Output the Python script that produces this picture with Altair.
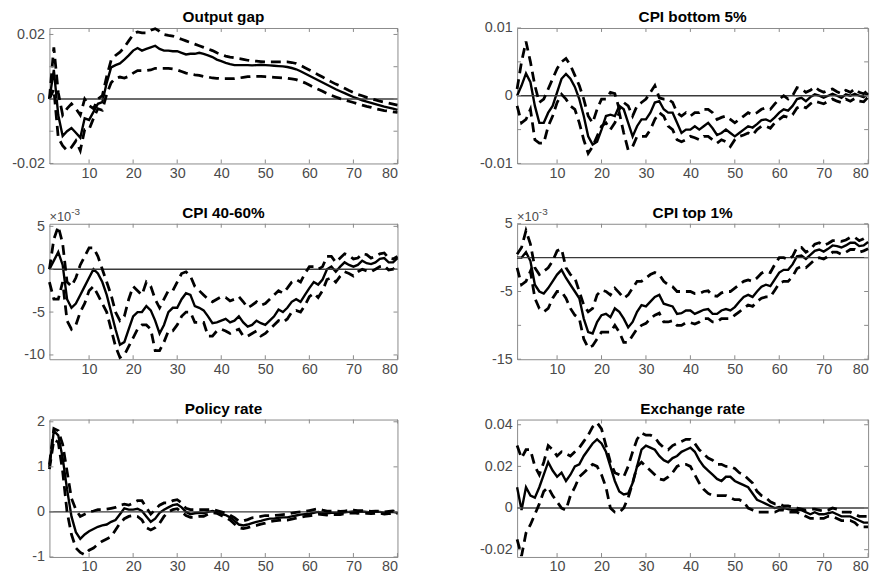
import altair as alt
import pandas as pd

T = list(range(1, 81))
XTICKS = [10, 20, 30, 40, 50, 60, 70, 80]

TITLES = ["Output gap", "CPI bottom 5%", "CPI 40-60%", "CPI top 1%", "Policy rate", "Exchange rate"]

# ---------------- Output gap ----------------
og_mean = [0, 0.009, -0.005, -0.0115, -0.010, -0.009, -0.0105, -0.012, -0.006, -0.0065,
           -0.004, -0.0015, -0.001, 0.005, 0.0098, 0.0105, 0.011, 0.0122, 0.0135, 0.015,
           0.0158, 0.015, 0.0155, 0.016, 0.0165, 0.0155, 0.015, 0.015, 0.0148, 0.0148,
           0.0143, 0.0138, 0.014, 0.014, 0.0143, 0.014, 0.0135, 0.013, 0.0122, 0.0117,
           0.0112, 0.0108, 0.0105, 0.0105, 0.0105, 0.0105, 0.0104, 0.0105, 0.0106, 0.0105,
           0.0104, 0.0103, 0.0102, 0.0101, 0.0099, 0.0096, 0.0092, 0.0086, 0.0079, 0.0072,
           0.0065, 0.0058, 0.0051, 0.0044, 0.0037, 0.0030, 0.0024, 0.0018, 0.0012, 0.0006,
           0.0001, -0.0004, -0.0008, -0.0012, -0.0016, -0.0020, -0.0024, -0.0027, -0.0030, -0.0034]
og_hi = [0, 0.016, 0.002, -0.005, -0.003, -0.0015, -0.003, -0.005, 0.0, -0.002,
         -0.003, 0.0, 0.001, 0.007, 0.012, 0.0135, 0.0145, 0.016, 0.018, 0.020,
         0.0208, 0.0205, 0.0205, 0.0213, 0.0218, 0.021, 0.020, 0.0197, 0.0195, 0.019,
         0.0185, 0.018, 0.0175, 0.017, 0.0165, 0.016, 0.0155, 0.015, 0.0143, 0.0138,
         0.0133, 0.013, 0.0128, 0.0125, 0.0123, 0.012, 0.0118, 0.0117, 0.0116, 0.0115,
         0.0115, 0.0115, 0.0115, 0.0115, 0.0115, 0.0113, 0.011, 0.0104, 0.0097, 0.009,
         0.0083, 0.0075, 0.0068, 0.006, 0.0053, 0.0046, 0.004, 0.0033, 0.0026, 0.002,
         0.0014, 0.001, 0.0005, 0.0001, -0.0003, -0.0007, -0.001, -0.0013, -0.0016, -0.0019]
og_lo = [0, 0.003, -0.012, -0.0145, -0.016, -0.015, -0.013, -0.016, -0.0095, -0.0095,
         -0.006, -0.003, -0.0035, 0.0015, 0.005, 0.0065, 0.0068, 0.0065, 0.007, 0.008,
         0.0088, 0.0088, 0.0088, 0.009, 0.0095, 0.0095, 0.0095, 0.0095, 0.0093, 0.009,
         0.0085, 0.008, 0.0078, 0.0075, 0.0073, 0.007, 0.0068, 0.0065, 0.0064, 0.0063,
         0.0063, 0.0063, 0.0063, 0.0065, 0.0067, 0.0069, 0.007, 0.007, 0.007, 0.0069,
         0.0068, 0.0067, 0.0066, 0.0065, 0.0064, 0.0062, 0.006, 0.0055, 0.005, 0.0043,
         0.0036, 0.003, 0.0024, 0.0017, 0.0011, 0.0006, 0.0001, -0.0003, -0.0007, -0.0011,
         -0.0015, -0.0019, -0.0023, -0.0026, -0.003, -0.0033, -0.0036, -0.0038, -0.004, -0.0042]

# ---------------- CPI bottom 5% ----------------
b5_mean = [0, 0.0015, 0.0033, 0.002, -0.0015, -0.004, -0.004, -0.0025, -0.0015, 0.0005,
           0.0025, 0.0032, 0.0025, 0.0013, -0.0005, -0.003, -0.006, -0.0072, -0.0068, -0.005,
           -0.003, -0.0028, -0.003, -0.0015, -0.002, -0.004, -0.006, -0.0045, -0.0035, -0.0035,
           -0.0025, -0.001, -0.0008, -0.002, -0.0025, -0.0025, -0.004, -0.0055, -0.005, -0.005,
           -0.0045, -0.005, -0.0045, -0.004, -0.0048, -0.0058, -0.0055, -0.005, -0.0055, -0.006,
           -0.0055, -0.005, -0.0045, -0.0047, -0.0042, -0.0036, -0.0035, -0.0038, -0.0032, -0.0025,
           -0.002, -0.0022, -0.0015, -0.0005, -0.0003, -0.0008, -0.0002, 0.0002, 0.0, -0.0003,
           0.0, 0.0003, 0.0, -0.0003, 0.0002, 0.0, 0.0003, 0.0, -0.0002, 0.0004]
b5_hi = [0.001, 0.005, 0.008, 0.005, 0.0015, -0.001, -0.0005, 0.001, 0.0025, 0.004,
         0.005, 0.0055, 0.0045, 0.003, 0.0015, -0.0005, -0.003, -0.004, -0.002, -0.0005,
         -0.0005, 0.0005, 0.0003, -0.002, -0.001, -0.0015, -0.003, -0.0015, -0.001, -0.0005,
         0.0005, 0.0015, -0.0003, -0.0005, -0.0005, -0.001, -0.0025, -0.003, -0.0025, -0.003,
         -0.0025, -0.0025, -0.002, -0.002, -0.0025, -0.0035, -0.0032, -0.003, -0.0035, -0.004,
         -0.0035, -0.003, -0.0025, -0.0028, -0.0025, -0.002, -0.0018, -0.002, -0.0012, -0.0005,
         0.0, -0.0005, 0.0, 0.0012, 0.001, 0.0005, 0.0008, 0.0013, 0.0008, 0.0005,
         0.0008, 0.001, 0.0006, 0.0003, 0.0008, 0.0005, 0.001, 0.0005, 0.0003, 0.0008]
b5_lo = [-0.0015, -0.004, -0.0035, -0.002, -0.0065, -0.007, -0.007, -0.0045, -0.003, -0.001,
         0.0002, -0.0005, -0.0015, -0.002, -0.004, -0.0065, -0.0085, -0.0075, -0.006, -0.0045,
         -0.004, -0.005, -0.004, -0.0025, -0.0055, -0.008, -0.0075, -0.006, -0.006, -0.006,
         -0.005, -0.0035, -0.0025, -0.003, -0.0045, -0.005, -0.0065, -0.0068, -0.0065, -0.006,
         -0.0062, -0.0065, -0.006, -0.006, -0.0065, -0.007, -0.0065, -0.0068, -0.0075, -0.0065,
         -0.006, -0.0058, -0.0055, -0.0058, -0.005, -0.0045, -0.0045, -0.0048, -0.004, -0.0035,
         -0.003, -0.0032, -0.0028, -0.0018, -0.0015, -0.0018, -0.0012, -0.0008, -0.001, -0.0012,
         -0.0008, -0.0005, -0.0008, -0.001, -0.0005, -0.0008, -0.0004, -0.0008, -0.0009, -0.0002]

# ---------------- CPI 40-60% (x 1e-3) ----------------
m4_mean = [0, 1, 2, 0.5, -3.5, -4.5, -4, -3, -2, -1,
           0, -0.5, -1.5, -3, -5, -7, -8.8, -8.5, -7, -5.5,
           -5, -5, -4.3, -4.8, -6, -7.5, -6.5, -5, -4.5, -4.5,
           -3.5, -2.8, -3, -4.3, -4.5, -4.8, -5.5, -6.3, -6.2, -6,
           -5.8, -6.2, -6, -5.5, -6.2, -6.7, -6.5, -6, -6.3, -6.5,
           -6, -5.5, -4.7, -5, -4.5, -3.8, -3.5, -3.8, -3, -2.2,
           -1.5, -1.8, -1.2, 0, 0.3, -0.3, 0.3, 0.8, 0.5, 0.3,
           0.5, 1.0, 0.7, 0.6, 0.8, 1.2, 1.3, 0.8, 0.8, 1.3]
m4_hi = [0, 3.5, 5, 3, -1.5, -2, -1, 0.5, 1.5, 2.5,
         2.5, 1.5, 0, -1.5, -3, -5, -6, -5.5, -3.5, -2,
         -2.5, -3, -1.5, -2, -3.5, -4.5, -3.5, -2.5, -2.5, -1.5,
         -0.5, -0.3, -0.8, -2, -2.5, -3, -3.5, -3.8, -3.5, -3.2,
         -3.3, -3.7, -3.5, -3.2, -3.8, -4.5, -4.2, -3.8, -4.2, -4,
         -3.5, -3, -2.5, -2.8, -2.2, -1.5, -1.2, -1.5, -0.5, 0.3,
         0.3, 0, 0.3, 1.5, 1.5, 0.8, 1.3, 1.8, 1.6, 1.2,
         1.3, 1.8, 1.7, 1.3, 1.5, 1.8, 1.9, 1.3, 1.2, 1.5]
m4_lo = [-1.5, -3.5, -3.5, -1.5, -6, -7, -6.5, -5, -4, -2.5,
         -2, -3, -4, -5, -7, -9, -10.3, -10, -9, -8,
         -7, -6.5, -6.5, -7, -9.5, -9.5, -8.5, -7.2, -7.2, -6.5,
         -5.5, -5, -5, -6.2, -6.2, -6.2, -7.8, -7.8, -7.2, -7,
         -7.2, -7.5, -7.2, -7, -7.8, -7.8, -7.5, -7.2, -7.8, -7.5,
         -7, -6.5, -6, -6.2, -5.8, -5, -4.8, -5, -4.2, -3.2,
         -2.8, -3.3, -2.5, -1.2, -1, -1.5, -0.8, -0.3, -0.5, -0.8,
         -0.3, 0, -0.2, -0.3, 0, 0.3, 0.4, -0.1, 0, 0.5]

# ---------------- CPI top 1% (x 1e-3) ----------------
t1_mean = [0, 0, 0.8, -0.5, -4, -5, -5.3, -4.5, -3.5, -2.5,
           -1.8, -3, -4, -5, -6, -9, -11, -11.2, -9.5, -8.5,
           -8.3, -8.8, -7.5, -8, -9, -10.3, -9.5, -8, -7, -7.2,
           -6.5, -5.8, -5.5, -6.8, -7, -7.2, -8.3, -8.2, -7.8, -7.8,
           -8.3, -8, -7.7, -7.6, -8.3, -8.3, -7.8, -7.6, -7.8, -7.3,
           -6.5, -5.8, -5.5, -5.8, -5, -4.3, -4, -4.2, -3.2, -2.2,
           -1.8, -1.8, -1, 0.2, 0.3, -0.2, 0.4, 1, 1.2, 0.9,
           1.3, 1.8, 1.7, 1.5, 1.8, 2.2, 2.2, 1.7, 1.8, 2.3]
t1_hi = [0.5, 1.5, 4, 2, -1.5, -2.5, -2, -1.5, -0.5, 1,
         1.3, -1.5, -2.5, -3, -5, -7, -8, -7.5, -5.5, -4.8,
         -5, -5.5, -4.5, -5.2, -6, -5.5, -4.5, -3.5, -3.5, -3,
         -2.5, -2.2, -2.5, -3.5, -4, -4.3, -5, -5, -5, -5,
         -5.3, -5.3, -5, -4.9, -5.6, -5.7, -5.2, -5, -5, -4.5,
         -4, -3.5, -3.3, -3.5, -3, -2.3, -2, -2.2, -1, 0,
         0, -0.3, 0.2, 1.5, 1.5, 0.8, 1.2, 2, 2.2, 1.8,
         2.1, 2.5, 2.5, 2.4, 2.6, 3, 3, 2.5, 2.8, 3.2]
t1_lo = [-1.5, -4, -3.5, -2, -6, -7.5, -8, -7.5, -6, -5,
         -5, -6, -7.5, -8.5, -9, -12, -13.3, -13, -12, -11,
         -11, -11, -10, -11, -12.5, -12.5, -11.5, -10.5, -10, -9.7,
         -9, -8.5, -8.2, -9.5, -9.5, -9.3, -10, -10, -9.6, -9.6,
         -9.8, -9.5, -9, -9, -9.5, -9.5, -9, -9, -9, -8.5,
         -8, -7.5, -7, -7.2, -6.5, -6, -5.8, -5.8, -4.8, -3.8,
         -3.5, -3.5, -2.8, -1.6, -1.3, -1.5, -0.9, -0.3, 0, -0.2,
         0.2, 0.8, 0.8, 0.5, 0.8, 1.2, 1.2, 0.8, 1, 1.3]

# ---------------- Policy rate ----------------
pr_mean = [1.0, 1.8, 1.7, 1.2, 0.5, -0.1, -0.45, -0.6, -0.5, -0.43,
           -0.38, -0.33, -0.3, -0.28, -0.22, -0.18, -0.05, 0.08, 0.05, 0.05,
           0.07, 0.02, -0.1, -0.22, -0.15, -0.02, 0.05, 0.1, 0.15, 0.17,
           0.1, 0.0, -0.05, -0.03, -0.02, -0.03, 0.0, 0.02, 0.0, -0.05,
           -0.07, -0.12, -0.2, -0.28, -0.3, -0.28, -0.25, -0.22, -0.2, -0.17,
           -0.15, -0.15, -0.13, -0.12, -0.12, -0.1, -0.08, -0.06, -0.05, -0.04,
           -0.02, 0.0, -0.02, -0.03, -0.02, -0.02, -0.03, -0.01, 0.0, 0.01,
           0.0, 0.01, 0.0, -0.01, 0.0, 0.0, -0.02, -0.01, 0.0, -0.02]
pr_hi = [1.05, 1.85, 1.8, 1.5, 0.9, 0.3, 0.05, -0.1, -0.05, 0.0,
         0.02, 0.05, 0.05, 0.06, 0.08, 0.1, 0.15, 0.17, 0.15, 0.2,
         0.25, 0.25, 0.1, -0.05, 0.05, 0.15, 0.2, 0.2, 0.25, 0.27,
         0.2, 0.08, 0.05, 0.05, 0.05, 0.05, 0.05, 0.05, 0.03, 0.0,
         -0.03, -0.07, -0.13, -0.2, -0.2, -0.17, -0.13, -0.12, -0.1, -0.08,
         -0.08, -0.08, -0.07, -0.06, -0.05, -0.03, -0.01, 0.0, 0.01, 0.03,
         0.05, 0.07, 0.04, 0.02, 0.02, 0.02, 0.01, 0.02, 0.03, 0.04,
         0.03, 0.03, 0.02, 0.01, 0.02, 0.02, 0.0, 0.01, 0.02, 0.0]
pr_lo = [0.95, 1.6, 1.55, 0.9, 0.0, -0.5, -0.8, -0.9, -0.95, -0.85,
         -0.8, -0.72, -0.65, -0.6, -0.55, -0.4, -0.25, -0.15, -0.1, -0.08,
         -0.1, -0.18, -0.35, -0.4, -0.35, -0.25, -0.1, 0.0, 0.05, 0.07,
         0.0, -0.08, -0.12, -0.12, -0.1, -0.1, -0.05, -0.02, -0.03, -0.08,
         -0.12, -0.18, -0.27, -0.35, -0.37, -0.35, -0.32, -0.3, -0.27, -0.25,
         -0.22, -0.2, -0.19, -0.18, -0.18, -0.16, -0.14, -0.12, -0.1, -0.09,
         -0.07, -0.05, -0.06, -0.07, -0.06, -0.06, -0.06, -0.04, -0.03, -0.02,
         -0.03, -0.02, -0.03, -0.04, -0.03, -0.03, -0.05, -0.04, -0.03, -0.04]

# ---------------- Exchange rate ----------------
er_mean = [0.01, -0.001, 0.01, 0.006, 0.005, 0.01, 0.016, 0.022, 0.018, 0.015,
           0.017, 0.013, 0.016, 0.02, 0.021, 0.025, 0.028, 0.031, 0.033, 0.031,
           0.027, 0.02, 0.013, 0.008, 0.0065, 0.007, 0.012, 0.02, 0.028, 0.03,
           0.029, 0.028, 0.025, 0.023, 0.022, 0.024, 0.025, 0.027, 0.028, 0.029,
           0.027, 0.023, 0.02, 0.018, 0.016, 0.014, 0.013, 0.015, 0.015, 0.013,
           0.012, 0.011, 0.01, 0.007, 0.004, 0.003, 0.002, 0.001, 0.0, 0.0005,
           0.0, -0.0005, -0.001, -0.0008, -0.001, -0.002, -0.003, -0.002, -0.003, -0.003,
           -0.0025, -0.002, -0.003, -0.004, -0.004, -0.004, -0.005, -0.006, -0.007, -0.007]
er_hi = [0.03, 0.024, 0.028, 0.028, 0.02, 0.016, 0.022, 0.03, 0.028, 0.025,
         0.027, 0.026, 0.025, 0.027, 0.029, 0.032, 0.035, 0.039, 0.041, 0.038,
         0.03, 0.022, 0.017, 0.016, 0.015, 0.02, 0.027, 0.033, 0.036, 0.035,
         0.035, 0.034, 0.031, 0.029, 0.028, 0.03, 0.031, 0.032, 0.033, 0.033,
         0.031, 0.028, 0.026, 0.024, 0.023, 0.021, 0.021, 0.02, 0.02, 0.019,
         0.017, 0.016, 0.014, 0.012, 0.008, 0.006, 0.005, 0.003, 0.002, 0.002,
         0.001, 0.001, 0.0005, 0.0, -0.0005, -0.001, -0.0005, -0.0005, -0.001, -0.0015,
         -0.001, 0.0, -0.0005, -0.002, -0.002, -0.002, -0.003, -0.004, -0.004, -0.004]
er_lo = [-0.015, -0.023, -0.012, -0.008, -0.003, 0.002, 0.008, 0.01, 0.006, 0.003,
         0.0, -0.001, 0.006, 0.01, 0.015, 0.017, 0.019, 0.021, 0.02, 0.016,
         0.01, 0.0, -0.002, -0.002, 0.0, 0.005, 0.012, 0.02, 0.022, 0.02,
         0.018, 0.016, 0.014, 0.0135, 0.015, 0.017, 0.02, 0.021, 0.021, 0.02,
         0.016, 0.012, 0.009, 0.007, 0.006, 0.006, 0.006, 0.006, 0.005, 0.004,
         0.004, 0.003, 0.0, -0.001, -0.002, -0.002, -0.002, -0.002, -0.002, -0.001,
         -0.001, -0.002, -0.002, -0.002, -0.003, -0.004, -0.005, -0.005, -0.005, -0.005,
         -0.004, -0.004, -0.005, -0.006, -0.006, -0.006, -0.007, -0.009, -0.009, -0.009]

FONT = "Liberation Sans"
LABEL_COLOR = "#4a4a4a"
FRAME = "#8a8a8a"
TICK = 4


def panel(title, mean, lo, hi, domain, yticks, width, height, exponent=False):
    df = pd.DataFrame({
        "t": T * 3,
        "v": mean + lo + hi,
        "s": ["mean"] * 80 + ["lo"] * 80 + ["hi"] * 80,
    })
    xs = alt.Scale(domain=[1, 80], nice=False, zero=False)
    ys = alt.Scale(domain=domain, nice=False, zero=False)
    xaxis = alt.Axis(values=XTICKS, labelExpr="'' + datum.value", ticks=False, domain=False,
                     grid=False, labelFont=FONT, labelFontSize=14.5, labelColor=LABEL_COLOR,
                     labelPadding=3, title=None, minExtent=20, maxExtent=20)
    yaxis = alt.Axis(values=yticks, labelExpr="'' + datum.value", ticks=False, domain=False,
                     grid=False, labelFont=FONT, labelFontSize=14.5, labelColor=LABEL_COLOR,
                     labelPadding=5, title=None, minExtent=40, maxExtent=40, labelFlush=False)

    base = alt.Chart(df)
    solid = base.transform_filter("datum.s == 'mean'").mark_line(
        color="black", strokeWidth=2.4).encode(
        x=alt.X("t:Q", scale=xs, axis=xaxis),
        y=alt.Y("v:Q", scale=ys, axis=yaxis))
    dashed = base.transform_filter("datum.s != 'mean'").mark_line(
        color="black", strokeWidth=2.8, strokeDash=[10, 6]).encode(
        x=alt.X("t:Q", scale=xs), y=alt.Y("v:Q", scale=ys), detail="s:N")
    zero = alt.Chart(pd.DataFrame({"z": [0]})).mark_rule(
        color="#3a3a3a", strokeWidth=1.4).encode(y=alt.Y("z:Q", scale=ys))

    xt = pd.DataFrame({"t": XTICKS})
    yt = pd.DataFrame({"v": yticks})
    xb = alt.Chart(xt).mark_rule(color=FRAME, strokeWidth=1).encode(
        x=alt.X("t:Q", scale=xs), y=alt.value(height), y2=alt.value(height - TICK))
    xtop = alt.Chart(xt).mark_rule(color=FRAME, strokeWidth=1).encode(
        x=alt.X("t:Q", scale=xs), y=alt.value(0), y2=alt.value(TICK))
    yl = alt.Chart(yt).mark_rule(color=FRAME, strokeWidth=1).encode(
        y=alt.Y("v:Q", scale=ys), x=alt.value(0), x2=alt.value(TICK))
    yr = alt.Chart(yt).mark_rule(color=FRAME, strokeWidth=1).encode(
        y=alt.Y("v:Q", scale=ys), x=alt.value(width), x2=alt.value(width - TICK))

    tdf = pd.DataFrame({"title": [title]})
    ttl = alt.Chart(tdf).mark_text(
        align="center", baseline="alphabetic", font=FONT, fontSize=15.5, fontWeight="bold",
        color="black").encode(x=alt.value(width / 2), y=alt.value(-6), text="title:N")

    layers = [solid, zero, dashed, xb, xtop, yl, yr, ttl]
    if exponent:
        ex = pd.DataFrame({"a": ["\u00d710"], "b": ["-3"]})
        layers.append(alt.Chart(ex).mark_text(
            align="left", baseline="alphabetic", font=FONT, fontSize=13, color=LABEL_COLOR).encode(
            x=alt.value(0), y=alt.value(-3), text="a:N"))
        layers.append(alt.Chart(ex).mark_text(
            align="left", baseline="alphabetic", font=FONT, fontSize=10, color=LABEL_COLOR).encode(
            x=alt.value(22), y=alt.value(-9), text="b:N"))

    return alt.layer(*layers).properties(width=width, height=height)


WL, WR = 352, 355
H12, H3 = 137, 139
p1 = panel(TITLES[0], og_mean, og_lo, og_hi, [-0.02, 0.022], [-0.02, -0.01, 0, 0.01, 0.02], WL, H12)
p2 = panel(TITLES[1], b5_mean, b5_lo, b5_hi, [-0.01, 0.01], [-0.01, -0.005, 0, 0.005, 0.01], WR, H12)
p3 = panel(TITLES[2], m4_mean, m4_lo, m4_hi, [-10.5, 5.3], [-10, -5, 0, 5], WL, H12, exponent=True)
p4 = panel(TITLES[3], t1_mean, t1_lo, t1_hi, [-15, 5], [-15, -10, -5, 0, 5], WR, H12, exponent=True)
p5 = panel(TITLES[4], pr_mean, pr_lo, pr_hi, [-1, 2.05], [-1, 0, 1, 2], WL, H3)
p6 = panel(TITLES[5], er_mean, er_lo, er_hi, [-0.0235, 0.0425], [-0.02, 0, 0.02, 0.04], WR, H3)

row1 = alt.hconcat(p1, p2, spacing=73)
row2 = alt.hconcat(p3, p4, spacing=73)
row3 = alt.hconcat(p5, p6, spacing=73)

chart = alt.vconcat(row1, row2, row3, spacing=21).properties(
    padding={"left": 9, "top": 6, "right": 2, "bottom": 2},
    background="white",
).configure_view(stroke=FRAME, strokeWidth=1)

chart.save("out.html", embed_options={"renderer": "svg", "actions": False})
